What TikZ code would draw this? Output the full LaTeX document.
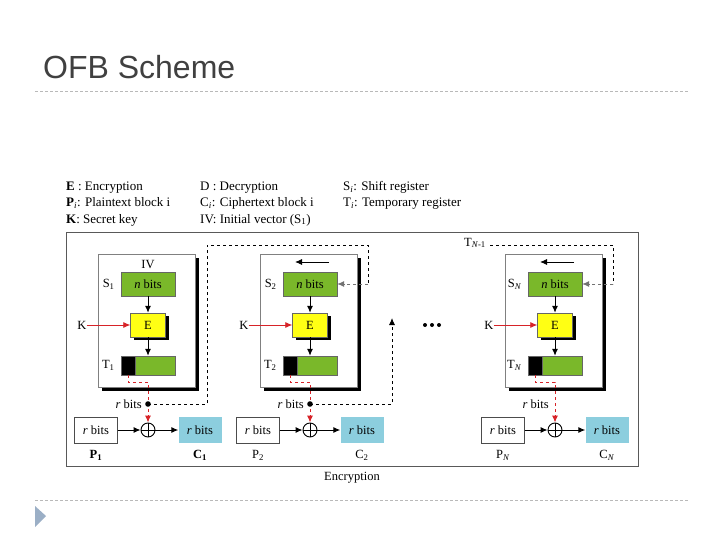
\documentclass[tikz,border=0pt]{standalone}
\usepackage{fontspec}
\setmainfont{Liberation Serif}
\newfontfamily\titlefont{Liberation Sans}
\usepackage{xcolor}
\usetikzlibrary{positioning,arrows.meta,shadows}

\definecolor{regGreen}{RGB}{122,184,42}
\definecolor{encYellow}{RGB}{255,255,20}
\definecolor{ctBlue}{RGB}{140,206,222}
\definecolor{keyRed}{RGB}{215,35,40}
\definecolor{ruleGray}{RGB}{185,185,185}
\definecolor{bulletGray}{RGB}{155,175,198}

\begin{document}
\begin{tikzpicture}[x=1pt, y=-1pt,
    every node/.style={font=\fontsize{12.5}{14}\selectfont, inner sep=0pt},
    legend/.style={anchor=base west, font=\fontsize{13}{15}\selectfont},
    blockbox/.style={draw=gray, fill=white, minimum width=97pt, minimum height=133pt,
        drop shadow={shadow xshift=3.5pt, shadow yshift=-4pt, opacity=1, fill=black}},
    reg/.style={draw=black!60, fill=regGreen, minimum width=54pt, minimum height=24pt},
    tmp/.style={draw=black!60, fill=regGreen, minimum width=54pt, minimum height=19pt},
    encbox/.style={draw=black!60, fill=encYellow, minimum width=35pt, minimum height=24pt,
        drop shadow={shadow xshift=3pt, shadow yshift=-3pt, opacity=1, fill=black}},
    ptbox/.style={draw=black!70, fill=white, minimum width=43pt, minimum height=26pt},
    ctbox/.style={fill=ctBlue, minimum width=43pt, minimum height=26pt},
    xorbox/.style={draw, circle, minimum size=14pt, fill=white, line width=0.9pt},
    arr/.style={-{Latex[length=7pt,width=6pt]}, line width=1pt},
    keyarr/.style={-{Latex[length=7pt,width=6pt]}, keyRed, line width=0.8pt},
    reddash/.style={-{Latex[length=7pt,width=6pt]}, keyRed, dashed, line width=1pt},
    fb/.style={dashed, line width=0.9pt},
    fbarr/.style={-{Latex[length=7pt,width=6pt]}, dashed, line width=0.9pt}
]
\useasboundingbox (0,0) rectangle (720,540);

% slide title and rules
\node[anchor=base west, font=\titlefont\fontsize{32}{36}\selectfont, text=black!75] (title) at (43,79) {OFB Scheme};
\draw[ruleGray, dash pattern=on 3pt off 2pt] (35,91) -- (688,91);
\draw[ruleGray, dash pattern=on 3pt off 2pt] (35,500) -- (688,500);
\fill[bulletGray] (35,506) -- (46,516) -- (35,527) -- cycle;

% legend
\node[legend] (lgE) at (66,191) {\textbf{E} : Encryption};
\node[legend] (lgP) at (66,207) {\textbf{P}\textsubscript{\textit{i}}: Plaintext block i};
\node[legend] (lgK) at (66,223) {\textbf{K}: Secret key};
\node[legend] (lgD) at (200,191) {D : Decryption};
\node[legend] (lgC) at (200,207) {C\textsubscript{\textit{i}}: Ciphertext block i};
\node[legend] (lgIV) at (200,223) {IV: Initial vector (S\textsubscript{1})};
\node[legend] (lgS) at (343,191) {S\textsubscript{\textit{i}}: Shift register};
\node[legend] (lgT) at (343,207) {T\textsubscript{\textit{i}}: Temporary register};

% outer frame
\draw[black!65, line width=0.8pt] (66,232) rectangle (638,466);
\node (enclabel) at (352,478) {Encryption};

% one stage per block
\foreach \cx/\i/\sub/\pf in {148/1/1/\bfseries, 310/2/2/\mdseries, 555/N/\textit{N}/\mdseries} {
    \node[blockbox] (b\i) at (\cx-1.5,320.5) {};
    \node[reg] (s\i) at (\cx,284) {\textit{n} bits};
    \node[encbox] (e\i) at (\cx,325) {E};
    \node[tmp] (t\i) at (\cx,365.5) {};
    \node[draw=black!60, fill=black, minimum width=14pt, minimum height=19pt, anchor=west] (tb\i) at (t\i.west) {};
    \node[left=6pt of s\i] (sl\i) {S\textsubscript{\sub}};
    \node[left=6pt of tb\i] (tl\i) {T\textsubscript{\sub}};
    \node (k\i) at (\cx-66,325) {K};
    \node[xorbox] (x\i) at (\cx,430) {};
    \draw[line width=0.9pt] (x\i.north) -- (x\i.south) (x\i.west) -- (x\i.east);
    \node[ptbox] (p\i) at (\cx-52,430) {\textit{r} bits};
    \node[ctbox] (c\i) at (\cx+52,430) {\textit{r} bits};
    \node[below=7pt of p\i] (pl\i) {\pf P\textsubscript{\sub}};
    \node[below=7pt of c\i] (cl\i) {\pf C\textsubscript{\sub}};
    \coordinate (r\i) at (\cx,404);
    \node[left=6pt of r\i] (rl\i) {\textit{r} bits};

    \draw[arr] (s\i) -- (e\i);
    \draw[arr] (e\i) -- (t\i);
    \draw[keyarr] (k\i) -- (e\i);
    \draw[reddash] (tb\i.south) -- ++(0,7) -| (x\i.north);
    \draw[arr] (p\i) -- (x\i);
    \draw[arr] (x\i) -- (c\i);
}

% shift arrows and IV
\node[above=3pt of s1] (iv) {IV};
\foreach \cx in {310,555}
    \draw[arr, line width=0.9pt] (\cx+19,262) -- (\cx-15,262);

% feedback paths
\fill (r1) circle (2.8);
\fill (r2) circle (2.8);
\coordinate (fb1) at (207,245);
\coordinate (fb2) at (368,284);
\draw[fb] (r1) -| (fb1) -| (fb2);
\draw[fbarr, black!55] (fb2) -- (s2.east);
\coordinate (up2) at (392,318);
\draw[fbarr] (r2) -| (up2);
\foreach \dx in {-7,0,7}
    \fill (432+\dx,325) circle (2);
\node[anchor=east] (tprev) at (486,243) {T\textsubscript{\textit{N}-1}};
\coordinate (fb3) at (613,284);
\draw[fb] (tprev.east) ++(4,2) -| (fb3);
\draw[fbarr, black!55] (fb3) -- (sN.east);
\end{tikzpicture}
\end{document}
